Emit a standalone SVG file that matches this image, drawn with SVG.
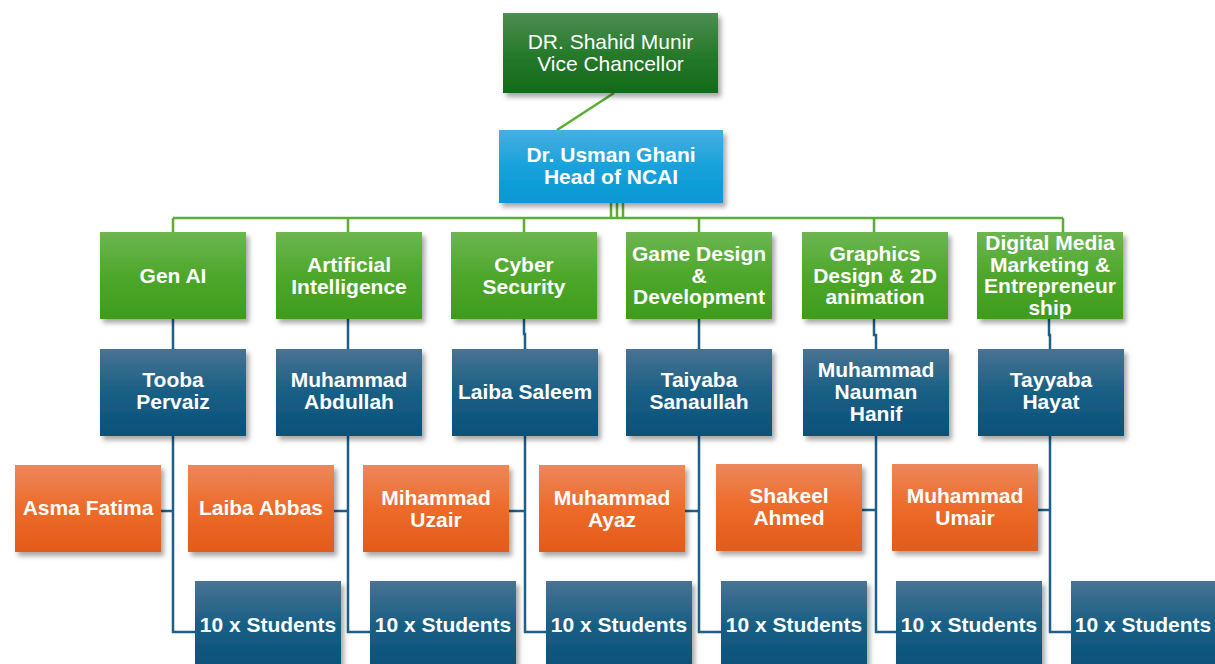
<svg xmlns="http://www.w3.org/2000/svg" width="1215" height="664" viewBox="0 0 1215 664">
<defs>
<linearGradient id="gDark" x1="0" y1="0" x2="0" y2="1"><stop offset="0" stop-color="#4e8d52"/><stop offset="0.5" stop-color="#277a2b"/><stop offset="1" stop-color="#146a19"/></linearGradient>
<linearGradient id="gHead" x1="0" y1="0" x2="0" y2="1"><stop offset="0" stop-color="#48aee0"/><stop offset="0.5" stop-color="#17a2db"/><stop offset="1" stop-color="#0898d4"/></linearGradient>
<linearGradient id="gGreen" x1="0" y1="0" x2="0" y2="1"><stop offset="0" stop-color="#6cb651"/><stop offset="0.5" stop-color="#4ea72b"/><stop offset="1" stop-color="#3e9c1d"/></linearGradient>
<linearGradient id="gBlue" x1="0" y1="0" x2="0" y2="1"><stop offset="0" stop-color="#497391"/><stop offset="0.5" stop-color="#185f85"/><stop offset="1" stop-color="#0a5178"/></linearGradient>
<linearGradient id="gOrange" x1="0" y1="0" x2="0" y2="1"><stop offset="0" stop-color="#ec875b"/><stop offset="0.5" stop-color="#ed6b2a"/><stop offset="1" stop-color="#e25b1a"/></linearGradient>
<filter id="sh" x="-10%" y="-10%" width="130%" height="140%"><feDropShadow dx="3" dy="4" stdDeviation="2.5" flood-color="#000" flood-opacity="0.35"/></filter>
</defs>
<style>
.box{filter:url(#sh)}
.t{font-family:"Liberation Sans",Arial,sans-serif;font-size:21px;font-weight:bold;fill:#fff;text-anchor:middle}
.tr{font-family:"Liberation Sans",Arial,sans-serif;font-size:21px;fill:#fff;text-anchor:middle}
.cg{fill:none;stroke:#5aae32;stroke-width:2.5}
.cb{fill:none;stroke:#1d5f87;stroke-width:2.5}
</style>
<rect width="1215" height="664" fill="#fff"/>
<g id="connectors">
<path class="cg" d="M614 93 L557 130"/>
<path class="cg" d="M611 203 V218 M617 203 V218 M623 203 V218"/>
<path class="cg" d="M173 218 H1063 M173 218 V232 M348 218 V232 M524 218 V232 M699 218 V232 M874 218 V232 M1063 218 V232"/>
<path class="cb" d="M173 319 V349 M348 319 V349 M524 319 V334 H525 V349 M699 319 V349 M874 319 V335 H876 V349 M1049 319 V335 H1050 V349"/>
<path class="cb" d="M173 436 V632 H195 M161 511 H173"/>
<path class="cb" d="M348 436 V632 H370 M334 511 H348"/>
<path class="cb" d="M525 436 V632 H546 M509 511 H525"/>
<path class="cb" d="M699 436 V632 H721 M685 511 H699"/>
<path class="cb" d="M876 436 V632 H896 M862 510 H876"/>
<path class="cb" d="M1050 436 V632 H1071 M1037 510 H1050"/>
</g>
<g id="vc"><rect class="box" x="503" y="13" width="215" height="80" fill="url(#gDark)"/><text class="tr" x="610.5" y="48.5">DR. Shahid Munir</text><text class="tr" x="610.5" y="70.5">Vice Chancellor</text></g>
<g id="head"><rect class="box" x="499" y="130" width="224" height="73" fill="url(#gHead)"/><text class="t" x="611" y="162">Dr. Usman Ghani</text><text class="t" x="611" y="184">Head of NCAI</text></g>
<g id="genai"><rect class="box" x="100" y="232" width="146" height="87" fill="url(#gGreen)"/><text class="t" x="173" y="283">Gen AI</text></g>
<g id="ai"><rect class="box" x="276" y="232" width="146" height="87" fill="url(#gGreen)"/><text class="t" x="349" y="272">Artificial</text><text class="t" x="349" y="293.5">Intelligence</text></g>
<g id="cyber"><rect class="box" x="451" y="232" width="146" height="87" fill="url(#gGreen)"/><text class="t" x="524" y="272">Cyber</text><text class="t" x="524" y="293.5">Security</text></g>
<g id="game"><rect class="box" x="626" y="232" width="146" height="87" fill="url(#gGreen)"/><text class="t" x="699" y="261">Game Design</text><text class="t" x="699" y="282.5">&amp;</text><text class="t" x="699" y="304">Development</text></g>
<g id="graphics"><rect class="box" x="802" y="232" width="146" height="87" fill="url(#gGreen)"/><text class="t" x="875" y="261">Graphics</text><text class="t" x="875" y="282.5">Design &amp; 2D</text><text class="t" x="875" y="304">animation</text></g>
<g id="digital"><rect class="box" x="977" y="232" width="146" height="87" fill="url(#gGreen)"/><text class="t" x="1050" y="250">Digital Media</text><text class="t" x="1050" y="271.5">Marketing &amp;</text><text class="t" x="1050" y="293">Entrepreneur</text><text class="t" x="1050" y="314.5">ship</text></g>
<g id="tooba"><rect class="box" x="100" y="349" width="146" height="87" fill="url(#gBlue)"/><text class="t" x="173" y="387">Tooba</text><text class="t" x="173" y="409">Pervaiz</text></g>
<g id="abdullah"><rect class="box" x="276" y="349" width="146" height="87" fill="url(#gBlue)"/><text class="t" x="349" y="387">Muhammad</text><text class="t" x="349" y="409">Abdullah</text></g>
<g id="laibasaleem"><rect class="box" x="452" y="349" width="146" height="87" fill="url(#gBlue)"/><text class="t" x="525" y="398.5">Laiba Saleem</text></g>
<g id="taiyaba"><rect class="box" x="626" y="349" width="146" height="87" fill="url(#gBlue)"/><text class="t" x="699" y="387">Taiyaba</text><text class="t" x="699" y="409">Sanaullah</text></g>
<g id="nauman"><rect class="box" x="803" y="349" width="146" height="87" fill="url(#gBlue)"/><text class="t" x="876" y="377">Muhammad</text><text class="t" x="876" y="399">Nauman</text><text class="t" x="876" y="421">Hanif</text></g>
<g id="tayyaba"><rect class="box" x="978" y="349" width="146" height="87" fill="url(#gBlue)"/><text class="t" x="1051" y="387">Tayyaba</text><text class="t" x="1051" y="409">Hayat</text></g>
<g id="asma"><rect class="box" x="15" y="465" width="146" height="87" fill="url(#gOrange)"/><text class="t" x="88" y="514.5">Asma Fatima</text></g>
<g id="laibaabbas"><rect class="box" x="188" y="465" width="146" height="87" fill="url(#gOrange)"/><text class="t" x="261" y="515">Laiba Abbas</text></g>
<g id="uzair"><rect class="box" x="363" y="465" width="146" height="87" fill="url(#gOrange)"/><text class="t" x="436" y="504.5">Mihammad</text><text class="t" x="436" y="526.5">Uzair</text></g>
<g id="ayaz"><rect class="box" x="539" y="465" width="146" height="87" fill="url(#gOrange)"/><text class="t" x="612" y="504.5">Muhammad</text><text class="t" x="612" y="526.5">Ayaz</text></g>
<g id="shakeel"><rect class="box" x="716" y="464" width="146" height="87" fill="url(#gOrange)"/><text class="t" x="789" y="503">Shakeel</text><text class="t" x="789" y="525">Ahmed</text></g>
<g id="umair"><rect class="box" x="892" y="464" width="146" height="87" fill="url(#gOrange)"/><text class="t" x="965" y="503">Muhammad</text><text class="t" x="965" y="525">Umair</text></g>
<g id="s1"><rect class="box" x="195" y="581" width="146" height="87" fill="url(#gBlue)"/><text class="t" x="268" y="632">10 x Students</text></g>
<g id="s2"><rect class="box" x="370" y="581" width="146" height="87" fill="url(#gBlue)"/><text class="t" x="443" y="632">10 x Students</text></g>
<g id="s3"><rect class="box" x="546" y="581" width="146" height="87" fill="url(#gBlue)"/><text class="t" x="619" y="632">10 x Students</text></g>
<g id="s4"><rect class="box" x="721" y="581" width="146" height="87" fill="url(#gBlue)"/><text class="t" x="794" y="632">10 x Students</text></g>
<g id="s5"><rect class="box" x="896" y="581" width="146" height="87" fill="url(#gBlue)"/><text class="t" x="969" y="632">10 x Students</text></g>
<g id="s6"><rect class="box" x="1071" y="581" width="146" height="87" fill="url(#gBlue)"/><text class="t" x="1143" y="632">10 x Students</text></g>
</svg>
